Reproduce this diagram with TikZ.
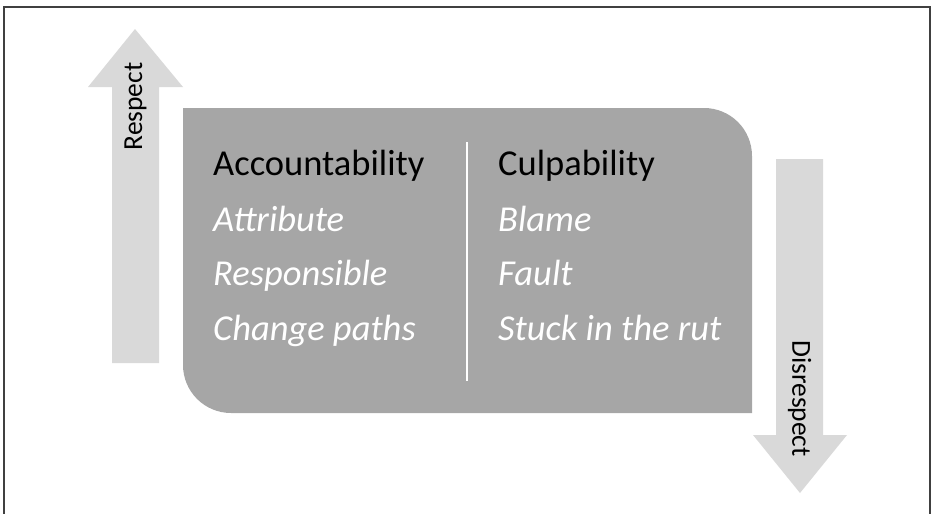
\documentclass[tikz,border=0pt]{standalone}
\usepackage{fontspec}
\setmainfont{Carlito}
\begin{document}
\begin{tikzpicture}[x=1pt,y=-1pt,
  bigarrow/.style={fill=arrowgray,draw=none},
  head/.style={anchor=base west,font=\fontsize{36.5}{40}\selectfont,text=black,inner sep=0pt},
  item/.style={anchor=base west,font=\fontsize{36.5}{40}\selectfont\itshape,text=white,inner sep=0pt},
  arrowlabel/.style={font=\fontsize{27.5}{30}\selectfont,text=black,inner sep=0pt}]
\definecolor{arrowgray}{HTML}{D9D9D9}
\definecolor{boxgray}{HTML}{A6A6A6}
\definecolor{framegray}{HTML}{404040}
\useasboundingbox (0,0) rectangle (932,514);
% frame (no bottom edge)
\draw[framegray,line width=1.5pt] (4,514) -- (4,7) -- (930,7) -- (930,514);
% up arrow
\fill[bigarrow] (112,363) -- (112,87) -- (88,87) -- (135,29) -- (183,87) -- (159,87) -- (159,363) -- cycle;
\node[arrowlabel,rotate=90] (respect) at (135.5,106.5) {Respect};
% down arrow
\fill[bigarrow] (776,159) -- (776,435) -- (753,435) -- (800,493) -- (847,435) -- (823,435) -- (823,159) -- cycle;
\node[arrowlabel,rotate=-90] (disrespect) at (799.5,398.5) {Disrespect};
% main box
\fill[boxgray] (183,108) -- (704,108) arc[start angle=-90,end angle=0,radius=48] -- (752,413) -- (231,413) arc[start angle=90,end angle=180,radius=48] -- cycle;
% divider
\draw[white,line width=2.5pt] (467,142) -- (467,381);
% texts
\node[head] (acc) at (213,175) {Accountability};
\node[item] (attr) at (213,231) {Attribute};
\node[item] (resp) at (213,285.5) {Responsible};
\node[item] (chg) at (213,340) {Change paths};
\node[head] (cul) at (498,175) {Culpability};
\node[item] (blame) at (498,231) {Blame};
\node[item] (fault) at (498,285.5) {Fault};
\node[item] (stuck) at (498,340) {Stuck in the rut};
\end{tikzpicture}
\end{document}
